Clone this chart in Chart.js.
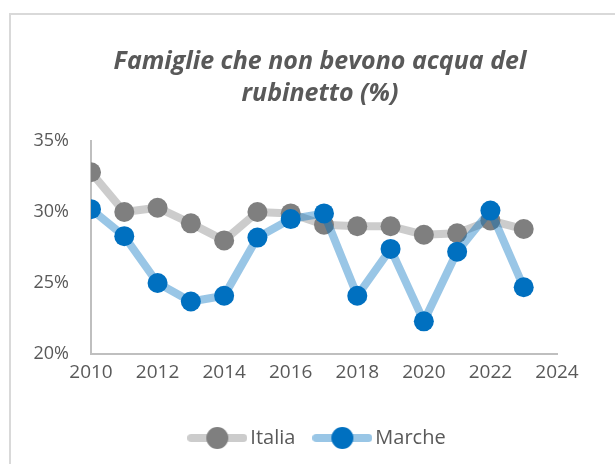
<!DOCTYPE html>
<html>
<head>
<meta charset="utf-8">
<script src="https://cdn.jsdelivr.net/npm/chart.js@4/dist/chart.umd.min.js"></script>
<style>
  html, body { margin: 0; padding: 0; background: #fff; }
  #wrap { position: relative; width: 615px; height: 464px; overflow: hidden; }
  #frame { position: absolute; left: 9px; top: 13px; width: 700px; height: 600px; border: 2px solid #d9d9d9; box-sizing: border-box; }
  #chart { position: absolute; left: 0; top: 0; }
</style>
</head>
<body>
<div id="wrap">
  <div id="frame"></div>
  <canvas id="chart" width="615" height="464"></canvas>
</div>
<script>
// dati
const anni = [2010, 2011, 2012, 2013, 2014, 2015, 2016, 2017, 2018, 2019, 2020, 2021, 2022, 2023];
const italia = [32.8, 30.0, 30.3, 29.2, 28.0, 30.0, 29.9, 29.1, 29.0, 29.0, 28.4, 28.5, 29.4, 28.8];
const marche = [30.2, 28.3, 25.0, 23.7, 24.1, 28.2, 29.5, 29.9, 24.1, 27.4, 22.3, 27.2, 30.1, 24.7];
const tickAnni = [2010, 2012, 2014, 2016, 2018, 2020, 2022, 2024];
const tickPerc = [20, 25, 30, 35];

const FONT = '"Open Sans", "Liberation Sans", sans-serif';
const TESTO = '#595959';

// simbolo della legenda: linea spessa con punto al centro
function simbolo(lineaCol, puntoCol) {
    const c = document.createElement('canvas');
    c.width = 60; c.height = 24;
    const g = c.getContext('2d');
    g.strokeStyle = lineaCol;
    g.lineWidth = 8;
    g.lineCap = 'round';
    g.beginPath(); g.moveTo(4, 12); g.lineTo(56, 12); g.stroke();
    g.fillStyle = puntoCol;
    g.beginPath(); g.arc(30, 12, 11, 0, Math.PI * 2); g.fill();
    return c;
}
const simboli = [simbolo('#cccccc', '#7f7f7f'), simbolo('#99c6e6', '#0070c0')];

const punti = (arr) => anni.map((a, i) => ({ x: a, y: arr[i] }));

new Chart(document.getElementById('chart'), {
    type: 'line',
    data: {
        datasets: [{
            label: 'Italia',
            data: punti(italia),
            borderColor: 'rgba(127,127,127,0.4)',
            borderWidth: 8,
            pointRadius: 10,
            pointStyle: 'circle',
            pointBackgroundColor: '#7f7f7f',
            pointBorderWidth: 0,
            order: 2
        }, {
            label: 'Marche',
            data: punti(marche),
            borderColor: 'rgba(0,112,192,0.4)',
            borderWidth: 8,
            pointRadius: 10,
            pointStyle: 'circle',
            pointBackgroundColor: '#0070c0',
            pointBorderWidth: 0,
            order: 1
        }]
    },
    options: {
        responsive: false,
        animation: false,
        layout: { padding: { left: 25, right: 0, top: 0, bottom: 6 } },
        plugins: {
            title: {
                display: true,
                text: ['Famiglie che non bevono acqua del', 'rubinetto (%)'],
                color: TESTO,
                font: { family: FONT, size: 25, style: 'italic', weight: 'bold', lineHeight: 1.28 },
                padding: { top: 46, bottom: 31 }
            },
            legend: {
                position: 'bottom',
                labels: {
                    usePointStyle: true,
                    pointStyleWidth: 46,
                    padding: 24,
                    color: TESTO,
                    font: { family: FONT, size: 20 },
                    sort: (a, b) => a.datasetIndex - b.datasetIndex,
                    generateLabels: (chart) => {
                        const items = Chart.defaults.plugins.legend.labels.generateLabels(chart);
                        items.forEach(it => { it.pointStyle = simboli[it.datasetIndex]; });
                        return items;
                    }
                }
            },
            tooltip: { enabled: false }
        },
        scales: {
            x: {
                type: 'linear',
                min: tickAnni[0],
                max: tickAnni[tickAnni.length - 1],
                afterBuildTicks: (s) => { s.ticks = tickAnni.map(v => ({ value: v })); },
                afterFit: (s) => { s.height = 50; },
                grid: { display: false, drawTicks: false },
                border: { display: true, color: '#bfbfbf', width: 2 },
                ticks: { color: TESTO, font: { family: FONT, size: 19 }, padding: 7, callback: v => String(v) }
            },
            y: {
                min: tickPerc[0],
                max: tickPerc[tickPerc.length - 1],
                afterBuildTicks: (s) => { s.ticks = tickPerc.map(v => ({ value: v })); },
                afterFit: (s) => { s.width = 66; },
                grid: { display: false, drawTicks: false },
                border: { display: true, color: '#bfbfbf', width: 2 },
                ticks: { color: TESTO, font: { family: FONT, size: 18 }, padding: 22, callback: v => v + '%' }
            },
            // spazio vuoto a destra, per centrare titolo e legenda come nell'originale
            destra: {
                type: 'linear',
                position: 'right',
                afterFit: (s) => { s.width = 58; },
                grid: { display: false, drawTicks: false },
                border: { display: false },
                ticks: { display: false }
            }
        }
    }
});
</script>
</body>
</html>
